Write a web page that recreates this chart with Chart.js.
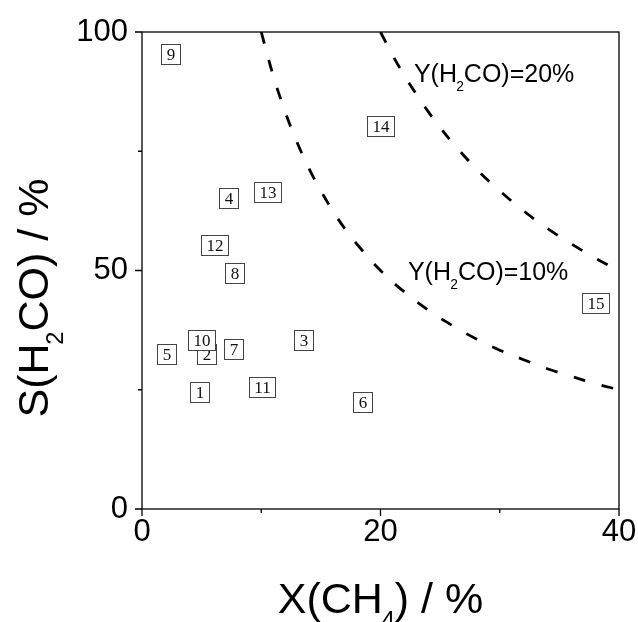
<!DOCTYPE html>
<html>
<head>
<meta charset="utf-8">
<script src="https://cdn.jsdelivr.net/npm/chart.js@4.4.1/dist/chart.umd.min.js"></script>
<style>
html,body{margin:0;padding:0;background:#fff;}
#wrap{width:638px;height:622px;position:relative;}
</style>
</head>
<body>
<div id="wrap"><canvas id="c" width="638" height="622"></canvas></div>
<script>
// ---- data ----
const sampleIds = ['1','2','3','4','5','6','7','8','9','10','11','12','13','14','15'];
const convCH4   = [4.84, 5.37, 13.53, 7.24, 2.07, 18.51, 7.66, 7.74, 2.35, 5.03, 10.06, 6.06, 10.51, 19.96, 37.99];
const selH2CO   = [24.5, 32.4, 35.5, 65.2, 32.5, 22.4, 33.5, 49.4, 95.3, 35.5, 25.6, 55.4, 66.4, 80.3, 43.1];

const y10X = [10, 11, 12, 13, 14, 15, 16, 17, 18, 20, 22, 24, 26, 28, 30, 32, 34, 36, 38, 40];
const y10S = [100, 90.9, 83.3, 76.9, 71.4, 66.7, 62.5, 58.8, 55.6, 50, 45.5, 41.7, 38.5, 35.7, 33.3, 31.3, 29.4, 27.8, 26.3, 25];
const y20X = [20, 21, 22, 23, 24, 25, 26, 28, 30, 32, 34, 36, 38, 40];
const y20S = [100, 95.2, 90.9, 87.0, 83.3, 80, 76.9, 71.4, 66.7, 62.5, 58.8, 55.6, 52.6, 50];

const xMajorTicks = [0, 20, 40];
const xMinorTicks = [10, 30];
const yMajorTicks = [0, 50, 100];
const yMinorTicks = [25, 75];

const curveLabelText = [['Y(H','2','CO)=20%'], ['Y(H','2','CO)=10%']];
const curveLabelX = [22.8, 22.3];
const curveLabelS = [89.6, 48.0];

const xTitle = ['X(CH','4',') / %'];
const yTitle = ['S(H','2','CO) / %'];

// ---- helpers ----
const SANS = '"Liberation Sans", Arial, sans-serif';
const SERIF = '"Liberation Serif", "Times New Roman", serif';
const SUB_SCALE = 0.55, SUB_PRE = -0.03, SUB_POST = 0.0, SUB_DROP = 0.36;

function subTextWidth(ctx, parts, fs) {
  ctx.font = fs + 'px ' + SANS;
  let w = ctx.measureText(parts[0]).width;
  ctx.font = (fs * SUB_SCALE) + 'px ' + SANS;
  w += SUB_PRE * fs + ctx.measureText(parts[1]).width + SUB_POST * fs;
  ctx.font = fs + 'px ' + SANS;
  w += ctx.measureText(parts[2]).width;
  return w;
}
function drawSubText(ctx, parts, x, y, fs) {
  ctx.textAlign = 'left';
  ctx.textBaseline = 'alphabetic';
  ctx.font = fs + 'px ' + SANS;
  ctx.fillText(parts[0], x, y);
  x += ctx.measureText(parts[0]).width + SUB_PRE * fs;
  ctx.font = (fs * SUB_SCALE) + 'px ' + SANS;
  ctx.fillText(parts[1], x, y + SUB_DROP * fs);
  x += ctx.measureText(parts[1]).width + SUB_POST * fs;
  ctx.font = fs + 'px ' + SANS;
  ctx.fillText(parts[2], x, y);
}

const framePlugin = {
  id: 'framePlugin',
  afterDraw(chart) {
    const ctx = chart.ctx;
    const a = chart.chartArea;
    const xs = chart.scales.x, ys = chart.scales.y;
    ctx.save();
    ctx.strokeStyle = '#000';
    ctx.lineWidth = 1.3;
    ctx.strokeRect(a.left, a.top, a.right - a.left, a.bottom - a.top);
    ctx.beginPath();
    yMajorTicks.forEach(v => { const p = ys.getPixelForValue(v); ctx.moveTo(a.left - 7, p); ctx.lineTo(a.left, p); });
    yMinorTicks.forEach(v => { const p = ys.getPixelForValue(v); ctx.moveTo(a.left - 4, p); ctx.lineTo(a.left, p); });
    xMajorTicks.forEach(v => { const p = xs.getPixelForValue(v); ctx.moveTo(p, a.bottom); ctx.lineTo(p, a.bottom + 7); });
    xMinorTicks.forEach(v => { const p = xs.getPixelForValue(v); ctx.moveTo(p, a.bottom); ctx.lineTo(p, a.bottom + 4); });
    ctx.stroke();

    // curve annotations
    ctx.fillStyle = '#000';
    curveLabelText.forEach((parts, i) => {
      drawSubText(ctx, parts, xs.getPixelForValue(curveLabelX[i]), ys.getPixelForValue(curveLabelS[i]), 25);
    });

    // axis titles
    const tfs = 43;
    const xw = subTextWidth(ctx, xTitle, tfs);
    drawSubText(ctx, xTitle, (a.left + a.right) / 2 - xw / 2, 613, tfs);
    const yw = subTextWidth(ctx, yTitle, tfs);
    ctx.translate(48, 298);
    ctx.rotate(-Math.PI / 2);
    drawSubText(ctx, yTitle, -yw / 2, 0, tfs);
    ctx.restore();
  },
  afterDatasetsDraw(chart) {
    const ctx = chart.ctx;
    const meta = chart.getDatasetMeta(0);
    ctx.save();
    ctx.font = '17px ' + SERIF;
    ctx.textAlign = 'center';
    ctx.textBaseline = 'middle';
    meta.data.forEach((pt, i) => {
      const label = sampleIds[i];
      const tw = ctx.measureText(label).width;
      const w = Math.round(tw + 10), h = 20;
      const bx = Math.round(pt.x - w / 2) + 0.5, by = Math.round(pt.y - h / 2) + 0.5;
      ctx.fillStyle = '#fff';
      ctx.fillRect(bx, by, w, h);
      ctx.strokeStyle = '#444';
      ctx.lineWidth = 1;
      ctx.strokeRect(bx, by, w, h);
      ctx.fillStyle = '#111';
      ctx.fillText(label, bx + w / 2, by + h / 2 + 1);
    });
    ctx.restore();
  }
};

const points = convCH4.map((x, i) => ({x: x, y: selH2CO[i]}));
const curve10 = y10X.map((x, i) => ({x: x, y: y10S[i]}));
const curve20 = y20X.map((x, i) => ({x: x, y: y20S[i]}));

new Chart(document.getElementById('c'), {
  type: 'scatter',
  data: {
    datasets: [
      { label: 'samples', data: points, pointRadius: 0, pointHoverRadius: 0, showLine: false },
      { label: 'Y=10%', data: curve10, showLine: true, pointRadius: 0, borderColor: '#000', borderWidth: 2.8, borderDash: [12, 17], tension: 0.4, fill: false },
      { label: 'Y=20%', data: curve20, showLine: true, pointRadius: 0, borderColor: '#000', borderWidth: 2.8, borderDash: [12, 17], tension: 0.4, fill: false }
    ]
  },
  options: {
    responsive: false,
    devicePixelRatio: 1,
    animation: false,
    events: [],
    layout: { padding: { top: 32, right: 19, left: 0, bottom: 0 } },
    plugins: { legend: { display: false }, tooltip: { enabled: false } },
    scales: {
      x: {
        type: 'linear', min: 0, max: 40,
        afterBuildTicks: s => { s.ticks = xMajorTicks.map(v => ({value: v})); },
        afterFit: s => { s.height = 113; s.paddingLeft = 0; s.paddingRight = 0; },
        grid: { display: false, drawTicks: false },
        border: { display: false },
        ticks: { font: { family: SANS, size: 31 }, color: '#000', padding: 5, maxRotation: 0 }
      },
      y: {
        type: 'linear', min: 0, max: 100,
        afterBuildTicks: s => { s.ticks = yMajorTicks.map(v => ({value: v})); },
        afterFit: s => { s.width = 142; s.paddingTop = 0; s.paddingBottom = 0; },
        grid: { display: false, drawTicks: false },
        border: { display: false },
        ticks: { font: { family: SANS, size: 31 }, color: '#000', padding: 14 }
      }
    }
  },
  plugins: [framePlugin]
});
</script>
</body>
</html>
